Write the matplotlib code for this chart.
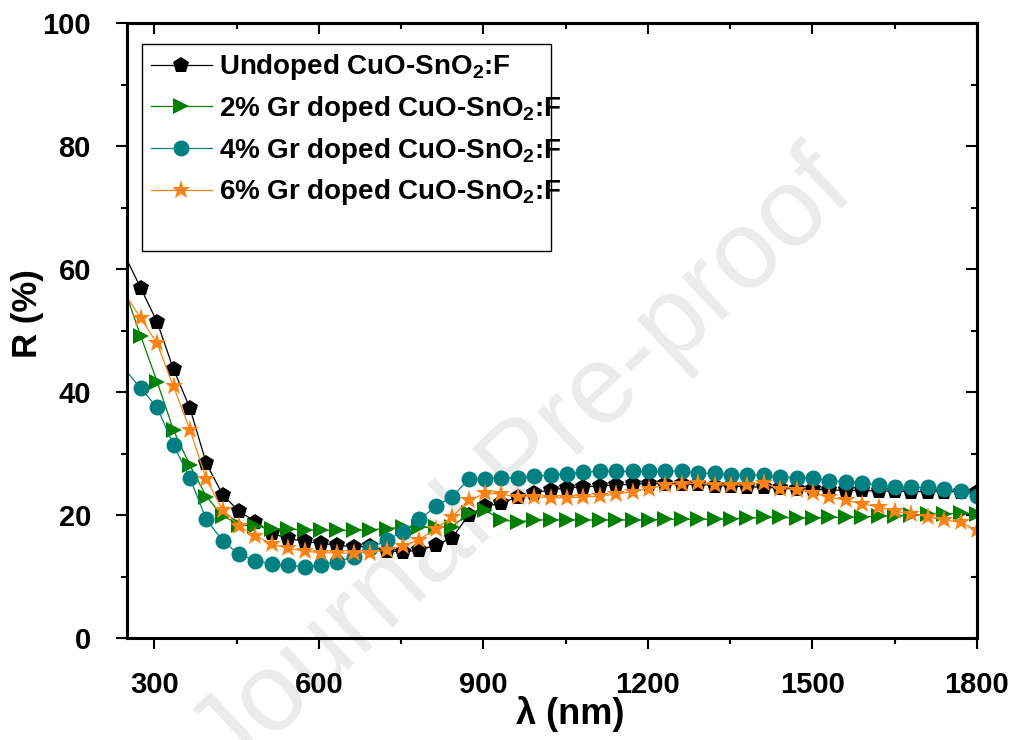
import numpy as np
import matplotlib
matplotlib.use("Agg")
import matplotlib.pyplot as plt
from matplotlib.ticker import MultipleLocator
from matplotlib.patches import Rectangle

plt.rcParams['font.family'] = ['Liberation Sans', 'DejaVu Sans']
plt.rcParams['font.weight'] = 'bold'
plt.rcParams['mathtext.fontset'] = 'custom'
plt.rcParams['mathtext.bf'] = 'Liberation Sans:bold'
plt.rcParams['mathtext.rm'] = 'Liberation Sans:bold'

# wavelength grid: line start at 250 nm, then one marker every ~30 nm
wavelength = np.concatenate([[250], np.linspace(275, 1800, 52)])

undoped = [61.5, 56.9, 51.4, 43.7, 37.4, 28.4, 23.3, 20.6, 18.9, 17.0, 16.2, 15.7, 15.4,
           15.1, 14.8, 14.9, 14.2, 14.0, 14.3, 15.1, 16.3, 20.0, 21.4, 21.9, 23.0, 23.6,
           24.1, 24.4, 24.6, 24.7, 24.9, 25.0, 25.1, 25.1, 25.0, 25.0, 24.8, 24.7, 24.6,
           24.5, 24.4, 24.3, 24.2, 24.1, 24.0, 24.0, 23.9, 23.9, 23.8, 23.8, 23.8, 23.8, 23.7]
gr2 = [55.5, 49.1, 41.7, 33.8, 28.1, 23.0, 19.9, 18.4, 18.2, 17.8, 17.7, 17.6, 17.5,
       17.5, 17.5, 17.6, 17.8, 18.0, 18.0, 18.0, 18.1, 20.3, 20.8, 19.2, 18.9, 19.2,
       19.2, 19.2, 19.2, 19.2, 19.2, 19.2, 19.2, 19.3, 19.3, 19.3, 19.3, 19.4, 19.5,
       19.6, 19.6, 19.5, 19.5, 19.6, 19.6, 19.7, 19.8, 19.9, 20.0, 20.1, 20.2, 20.3, 20.2]
gr4 = [43.3, 40.6, 37.5, 31.4, 26.0, 19.3, 15.8, 13.6, 12.6, 12.0, 11.8, 11.6, 11.9,
       12.4, 13.2, 14.6, 15.9, 17.3, 19.3, 21.4, 23.0, 25.8, 25.9, 26.0, 26.1, 26.3,
       26.5, 26.7, 27.0, 27.1, 27.1, 27.1, 27.1, 27.1, 27.2, 26.8, 26.8, 26.5, 26.5,
       26.5, 26.2, 26.1, 26.0, 25.6, 25.4, 25.2, 24.9, 24.5, 24.5, 24.5, 24.2, 23.9, 23.1]
gr6 = [55.5, 52.0, 47.9, 40.9, 33.9, 25.8, 20.8, 18.2, 16.6, 15.3, 14.6, 14.1, 13.9,
       13.8, 13.8, 13.9, 14.3, 15.0, 16.0, 17.8, 19.7, 22.4, 23.5, 23.4, 22.9, 23.0,
       22.8, 22.8, 22.9, 23.1, 23.4, 23.8, 24.3, 24.9, 25.0, 25.2, 24.9, 24.9, 24.9,
       25.2, 24.3, 24.1, 23.6, 22.9, 22.4, 21.8, 21.3, 20.6, 20.2, 19.7, 19.2, 18.8, 17.6]

labels = [r'Undoped CuO-SnO$_\mathbf{2}$:F',
          r'2% Gr doped CuO-SnO$_\mathbf{2}$:F',
          r'4% Gr doped CuO-SnO$_\mathbf{2}$:F',
          r'6% Gr doped CuO-SnO$_\mathbf{2}$:F']
colors = ['black', '#008000', '#008080', '#FF8214']
markers = ['p', '>', 'o', '*']
sizes = [12, 12, 11.5, 14]

fig = plt.figure(figsize=(10.16, 7.4), dpi=100)
ax = fig.add_axes([0.125, 0.1378, 0.8366, 0.8311])
ax.set_facecolor('none')

for vals, lab, c, m, s in zip([undoped, gr2, gr4, gr6], labels, colors, markers, sizes):
    ax.plot(wavelength, vals, color=c, lw=0.9, marker=m, markersize=s,
            markevery=slice(1, None), markeredgewidth=0, label=lab)

ax.set_xlim(250, 1800)
ax.set_ylim(0, 100)
ax.xaxis.set_major_locator(MultipleLocator(300))
ax.xaxis.set_minor_locator(MultipleLocator(150))
ax.yaxis.set_major_locator(MultipleLocator(20))
ax.yaxis.set_minor_locator(MultipleLocator(10))
ax.tick_params(which='major', direction='out', length=8, width=1.5, labelsize=21)
ax.tick_params(axis='y', which='major', pad=18)
ax.tick_params(axis='x', which='major', pad=16)
ax.tick_params(which='minor', direction='out', length=4, width=1.5)
for sp in ax.spines.values():
    sp.set_linewidth(2.2)

# inward ticks on top and right
top = ax.secondary_xaxis('top')
top.xaxis.set_major_locator(MultipleLocator(300))
top.xaxis.set_minor_locator(MultipleLocator(150))
top.tick_params(which='major', direction='in', length=8, width=1.5, labeltop=False)
top.tick_params(which='minor', direction='in', length=4, width=1.5)
top.spines['top'].set_linewidth(2.2)
right = ax.secondary_yaxis('right')
right.yaxis.set_major_locator(MultipleLocator(20))
right.yaxis.set_minor_locator(MultipleLocator(10))
right.tick_params(which='major', direction='in', length=8, width=1.5, labelright=False)
right.tick_params(which='minor', direction='in', length=4, width=1.5)
right.spines['right'].set_linewidth(2.2)

ax.set_xlabel('λ (nm)', fontsize=26, fontweight='bold')
ax.set_ylabel('R (%)', fontsize=25, fontweight='bold')
ax.xaxis.set_label_coords(0.521, -0.094)
ax.yaxis.set_label_coords(-0.098, 0.528)

ax.legend(loc='upper left', bbox_to_anchor=(0.018, 0.966), frameon=False, fontsize=20,
          handlelength=2.2, handletextpad=0.25, labelspacing=0.42, borderpad=0.3,
          borderaxespad=0)
ax.add_patch(Rectangle((0.0176, 0.629), 0.4812, 0.337, transform=ax.transAxes,
                       fill=False, lw=1.0, edgecolor='black', zorder=5))

# watermark
ax.text(0.515, 0.37, 'Journal Pre-proof', transform=fig.transFigure, rotation=43,
        fontsize=80, fontweight='normal', color='#ebebeb', ha='center', va='center',
        zorder=1, clip_on=False)

fig.savefig('out.png', dpi=100)
